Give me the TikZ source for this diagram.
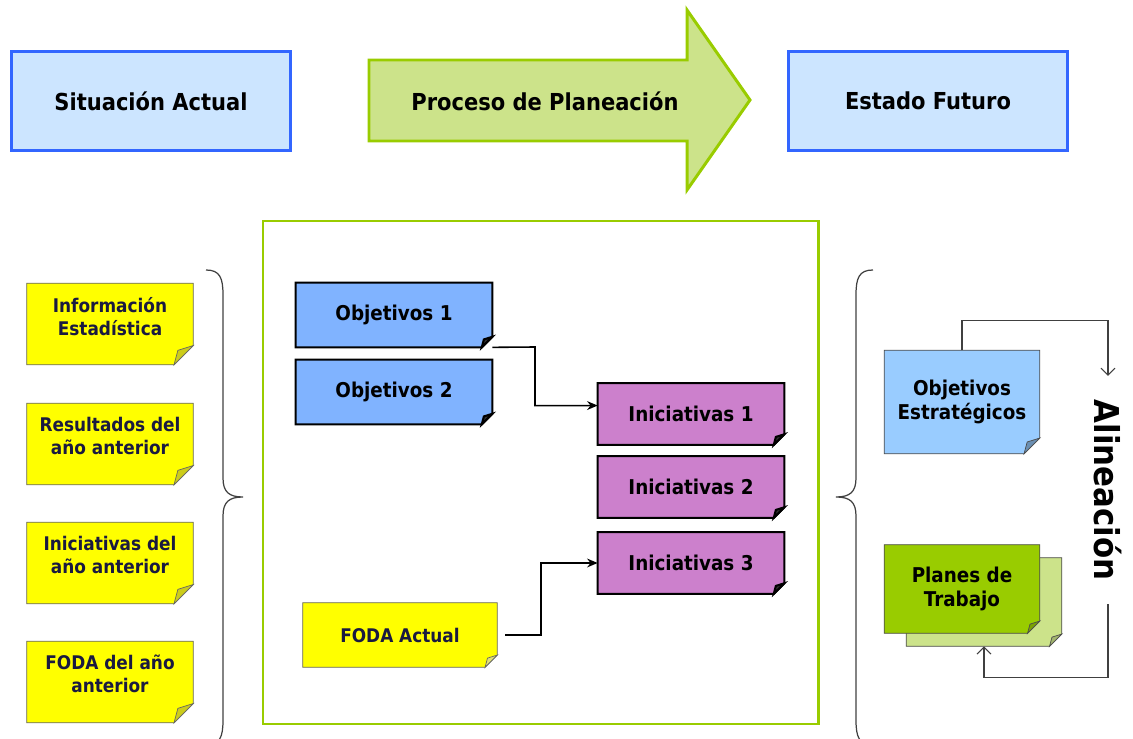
\documentclass[tikz,border=0pt]{standalone}
\usepackage{fontspec}
\setmainfont{DejaVu Sans Condensed}
\usetikzlibrary{arrows.meta,positioning,calc,backgrounds}

\definecolor{boxblue}{HTML}{CCE5FF}
\definecolor{lineblue}{HTML}{3366FF}
\definecolor{lightgreen}{HTML}{CCE38A}
\definecolor{limegreen}{HTML}{99CC00}
\definecolor{noteyellow}{HTML}{FFFF00}
\definecolor{flapyellow}{HTML}{CCCC1A}
\definecolor{objblue}{HTML}{80B3FF}
\definecolor{iniviolet}{HTML}{CC80CC}
\definecolor{estblue}{HTML}{99CCFF}
\definecolor{navytext}{HTML}{1A1A40}

% sheet with the lower right corner folded over
\newcommand{\dogear}[4]{%
  \filldraw[#1] (#2.north west) -- (#2.north east) -- ([yshift=#3]#2.south east)
    -- ([xshift=-#3]#2.south east) -- (#2.south west) -- cycle;
  \filldraw[#1, fill=#4] ([yshift=#3]#2.south east) -- ([xshift=-#3]#2.south east)
    -- ([xshift=-0.8*#3, yshift=0.75*#3]#2.south east) -- cycle;
}

\begin{document}
\begin{tikzpicture}[x=0.02cm, y=-0.02cm,
    state/.style={draw=lineblue, line width=1.7pt, fill=boxblue, minimum width=5.58cm, minimum height=1.98cm, font=\fontsize{13.3}{15}\selectfont\bfseries},
    note/.style={inner sep=0pt, align=center, font=\fontsize{11.6}{14}\selectfont\bfseries},
    input/.style={note, text=navytext, font=\fontsize{10.7}{13}\selectfont\bfseries, minimum width=3.32cm, minimum height=1.62cm},
    conn/.style={-{Stealth[length=6pt,width=5pt]}, line width=0.9pt},
    loopline/.style={-{Straight Barb[length=4pt,width=8pt]}, draw=black!75, line width=0.6pt}
]
\useasboundingbox (0,0) rectangle (1133,739);

% top row
\node[state] (actual) at (151,101) {Situación Actual};
\node[state] (futuro) at (928,101) {Estado Futuro};
\draw[draw=limegreen, fill=lightgreen, line width=1.7pt] (369,60) -- (687,60) -- (687,10) -- (750,100) -- (687,190) -- (687,141) -- (369,141) -- cycle;
\node[font=\fontsize{13.3}{15}\selectfont\bfseries] (proceso) at (545,101) {Proceso de Planeación};

% frame of the planning process
\draw[limegreen, line width=1.7pt] (263,221) rectangle (818,724);

% inputs
\node[input, text depth=9pt] (info) at (110,324) {Información\\ Estadística};
\node[input, text depth=9pt] (result) at (110,444) {Resultados del\\ año anterior};
\node[input, text depth=9pt] (inicant) at (110,563) {Iniciativas del\\ año anterior};
\node[input, text depth=9pt] (fodaant) at (110,682) {FODA del año\\ anterior};

% inside the process
\node[note, minimum width=3.92cm, minimum height=1.28cm] (obj1) at (394,315) {Objetivos 1};
\node[note, minimum width=3.92cm, minimum height=1.28cm] (obj2) at (394,392) {Objetivos 2};
\node[note, minimum width=3.72cm, minimum height=1.22cm] (ini1) at (691,414) {Iniciativas 1};
\node[note, minimum width=3.72cm, minimum height=1.22cm] (ini2) at (691,487) {Iniciativas 2};
\node[note, minimum width=3.72cm, minimum height=1.22cm] (ini3) at (691,563) {Iniciativas 3};
\node[input, minimum width=3.88cm, minimum height=1.28cm] (foda) at (400,635) {FODA Actual};

% outputs
\node[note, minimum width=3.1cm, minimum height=2.06cm] (objest) at (962,402) {Objetivos\\Estratégicos};
\node[note, minimum width=3.1cm, minimum height=1.76cm] (planesb) at (984,602) {};
\node[note, minimum width=3.1cm, minimum height=1.76cm] (planes) at (962,589) {Planes de\\Trabajo};
\node[rotate=-90, font=\fontsize{19.5}{22}\selectfont\bfseries] (alin) at (1108,490) {Alineación};

\begin{scope}[on background layer]
  \foreach \n in {info,result,inicant,fodaant} {\dogear{fill=noteyellow, draw=black!60}{\n}{11pt}{flapyellow}}
  \dogear{fill=noteyellow, draw=black!60}{foda}{7pt}{flapyellow!60}
  \foreach \n in {obj1,obj2} {\dogear{fill=objblue, draw=black, line width=1.2pt}{\n}{6pt}{black!80}}
  \foreach \n in {ini1,ini2,ini3} {\dogear{fill=iniviolet, draw=black, line width=1.2pt}{\n}{6pt}{black!80}}
  \dogear{fill=estblue, draw=black!70}{objest}{9pt}{estblue!70!black}
  \dogear{fill=lightgreen, draw=black!70}{planesb}{7pt}{lightgreen!80!black}
  \dogear{fill=limegreen, draw=black!70}{planes}{7pt}{limegreen!80!black}
\end{scope}

\draw[conn] (obj1.south east) -- (535,347) |- ([yshift=4.8pt]ini1.west);
\draw[conn] ([xshift=4.5pt]foda.east) -- ++(36,0) |- (ini3.west);

\draw[loopline, shorten >=10pt] (objest.north) -- ++(0,-30) -| (alin.west);
\draw[loopline, shorten <=10pt] (alin.east) |- ($(planesb.south)+(0,31)$) -- (planesb.south);

% braces
\draw[black!75, line width=0.7pt] (206,270) .. controls (220,270) and (223,278) .. (223,295) -- (223,478) .. controls (223,492) and (229,497) .. (243,497) .. controls (229,497) and (223,502) .. (223,516) -- (223,720) .. controls (223,737) and (220,745) .. (206,745);
\draw[black!75, line width=0.7pt] (873,270) .. controls (859,270) and (856,278) .. (856,295) -- (856,478) .. controls (856,492) and (850,497) .. (836,497) .. controls (850,497) and (856,502) .. (856,516) -- (856,720) .. controls (856,737) and (859,745) .. (873,745);
\end{tikzpicture}
\end{document}
